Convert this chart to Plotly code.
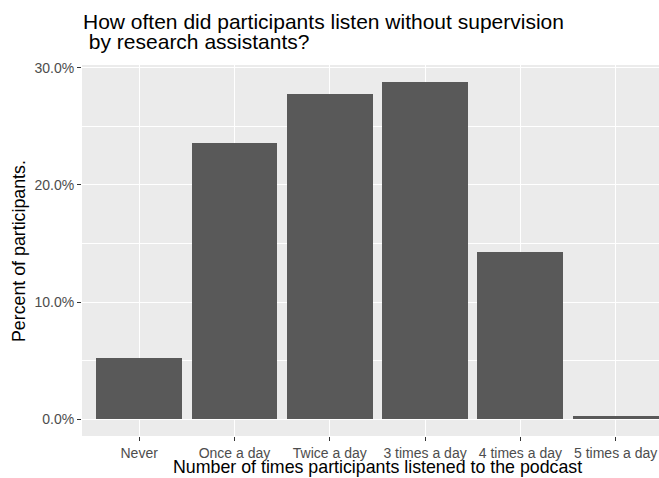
import plotly.graph_objects as go

categories = ["Never", "Once a day", "Twice a day", "3 times a day", "4 times a day", "5 times a day"]
percent_values = [0.052, 0.236, 0.278, 0.288, 0.143, 0.003]

title_line1 = "How often did participants listen without supervision"
title_line2 = " by research assistants?"
x_title = "Number of times participants listened to the podcast"
y_title = "Percent of participants."

W, H = 659, 478
L, R, T, B = 82, 0, 65, 42
pw, ph = W - L - R, H - T - B

def px_x(x):
    return (x - L) / pw

def px_y(y):
    return (H - B - y) / ph

FONT = "Liberation Sans, Arial, Helvetica, sans-serif"

fig = go.Figure()
fig.add_trace(go.Bar(
    x=categories, y=percent_values, width=0.9,
    marker=dict(color="#595959", line=dict(width=0)),
    hoverinfo="skip",
))

fig.update_layout(
    width=W, height=H,
    margin=dict(l=L, r=R, t=T, b=B, pad=0),
    paper_bgcolor="white", plot_bgcolor="#EBEBEB",
    showlegend=False,
    font=dict(family=FONT, color="#4D4D4D"),
    bargap=0,
)
fig.update_xaxes(
    type="category", range=[-0.6, 5.455],
    showgrid=True, gridcolor="white", gridwidth=1.1,
    ticks="outside", ticklen=4, tickwidth=1, tickcolor="#333333",
    tickfont=dict(size=14, color="#4D4D4D", family=FONT),
    zeroline=False, showline=False,
)
fig.update_yaxes(
    range=[-0.0144, 0.3024], dtick=0.1, tick0=0, tickformat=".1%",
    showgrid=True, gridcolor="white", gridwidth=1.1,
    minor=dict(dtick=0.05, showgrid=True, gridcolor="white", gridwidth=0.5),
    ticks="outside", ticklen=4, tickwidth=1, tickcolor="#333333",
    tickfont=dict(size=14, color="#4D4D4D", family=FONT),
    zeroline=False, showline=False,
)

fig.add_annotation(text=title_line1, xref="paper", yref="paper",
                   x=px_x(81), y=px_y(21.5), xanchor="left", yanchor="middle",
                   showarrow=False, font=dict(size=21, color="black", family=FONT))
fig.add_annotation(text=title_line2, xref="paper", yref="paper",
                   x=px_x(81), y=px_y(42), xanchor="left", yanchor="middle",
                   showarrow=False, font=dict(size=21, color="black", family=FONT))
fig.add_annotation(text=x_title, xref="paper", yref="paper",
                   x=px_x(377), y=px_y(467), xanchor="center", yanchor="middle",
                   showarrow=False, font=dict(size=17.8, color="black", family=FONT))
fig.add_annotation(text=y_title, xref="paper", yref="paper",
                   x=px_x(19), y=px_y(251), xanchor="center", yanchor="middle",
                   textangle=-90,
                   showarrow=False, font=dict(size=17.8, color="black", family=FONT))

fig.write_html("out.html", config={"displayModeBar": False},
               post_script="document.body.style.margin='0';document.body.style.overflow='hidden';")
